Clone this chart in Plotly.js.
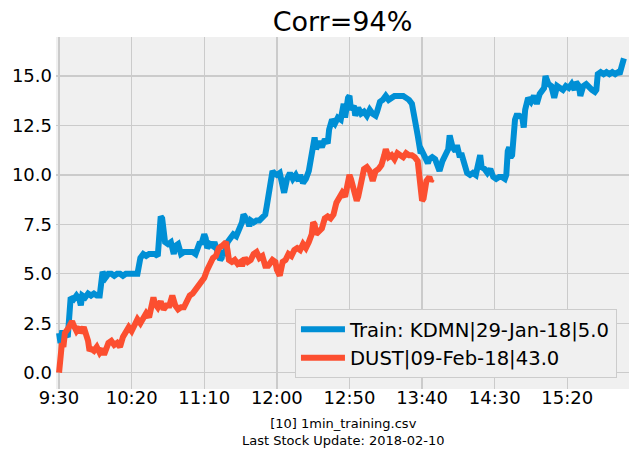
<!DOCTYPE html>
<html>
<head>
<meta charset="utf-8">
<script src="https://cdn.plot.ly/plotly-3.0.1.min.js"></script>
<style>html,body{margin:0;padding:0;background:#fff;}#chart{width:636px;height:458px;}</style>
</head>
<body>
<div id="chart"></div>
<script>
// minute index from 9:30
const trainMinutes = [0,1,2,4,6,7,8,10,12,14,15,16,18,20,22,24,26,28,29,30,32,34,36,38,40,42,44,46,48,50,52,54,56,58,60,62,64,66,68,69,70,71,72,73,75,77,79,80,82,84,86,88,90,92,94,95,97,98,100,101,102,104,106,107,108,110,111,112,113,114,116,118,120,122,124,126,127,128,129,130,131,132,134,136,138,140,142,143,144,145,146,147,148,150,152,154,155,157,159,161,163,165,166,168,170,172,174,175,176,177,179,181,183,185,186,188,190,192,194,196,197,199,200,201,203,204,206,208,210,212,213,214,216,218,219,221,223,225,227,229,231,233,235,237,239,241,243,245,246,247,248,249,250,252,254,255,257,259,261,262,264,266,268,269,270,271,273,274,276,277,279,281,283,285,287,289,290,291,293,295,297,299,301,303,305,307,308,309,310,311,312,314,315,317,319,320,321,323,325,327,329,331,333,334,335,337,339,341,343,345,347,349,351,353,355,356,358,359,361,363,365,367,369,370,371,373,375,377,379,381,383,385,386,388,389];
const trainValues = [2.0,1.5,2.0,2.0,1.8,3.6,3.8,3.7,3.9,3.7,3.4,3.9,3.8,4.0,3.9,4.0,3.9,3.9,4.9,5.1,4.8,5.0,5.0,4.9,5.0,5.0,4.9,5.0,5.0,5.0,5.0,5.0,5.8,6.0,5.9,6.0,6.0,6.0,5.9,7.3,7.9,7.8,7.0,6.6,6.5,6.6,6.0,6.4,6.5,6.0,6.1,6.1,6.1,6.1,6.0,6.3,6.6,6.5,7.0,6.8,6.3,6.5,6.4,6.6,6.3,6.0,5.7,5.8,6.2,5.9,6.6,6.8,7.0,6.9,7.2,7.6,8.0,7.9,7.6,7.7,7.4,7.7,7.6,7.7,7.7,7.9,8.0,8.4,9.0,9.4,9.8,10.2,10.1,10.0,10.1,9.6,9.1,9.8,10.1,9.8,10.0,9.7,10.0,9.6,9.8,10.2,10.9,11.5,11.9,11.3,11.7,11.4,11.8,11.6,12.3,12.8,12.6,12.9,12.8,13.6,12.9,13.9,14.0,13.3,13.5,13.0,13.4,13.1,13.2,13.0,13.1,13.3,13.1,13.0,13.2,13.7,13.8,14.0,13.8,13.9,14.0,14.0,14.0,14.0,13.9,13.8,13.6,13.0,12.4,12.0,11.6,11.1,11.2,10.9,10.6,10.8,10.9,10.8,10.4,10.2,10.7,11.1,11.3,12.0,11.7,11.4,11.2,11.5,10.9,11.1,10.6,10.1,10.0,10.1,10.0,10.9,11.0,10.4,10.3,10.1,10.3,9.9,9.8,9.9,9.9,9.8,10.0,11.2,11.4,10.9,11.0,12.8,13.0,13.0,12.9,12.4,13.3,13.9,13.7,14.0,13.6,14.1,14.3,14.4,15.0,14.6,14.5,13.9,14.5,14.4,14.3,14.5,14.4,14.6,14.3,14.7,14.5,14.0,14.5,14.6,14.4,14.3,14.2,14.3,15.1,15.2,15.1,15.2,15.1,15.2,15.1,15.2,15.1,15.5,15.9];

const dustMinutes = [0,1,2,3,4,6,8,9,10,12,14,15,17,18,20,21,22,24,26,28,30,31,33,34,36,38,40,42,44,46,48,50,52,54,56,58,60,62,64,65,66,68,70,72,74,76,78,80,82,84,86,88,90,92,94,96,98,100,102,104,106,108,110,112,114,115,116,117,119,121,123,125,126,128,130,132,134,136,138,140,142,144,145,147,149,150,152,154,156,158,160,162,164,166,168,170,172,174,175,176,177,179,181,183,185,187,189,191,193,195,197,199,200,201,203,205,206,208,210,212,214,216,218,220,222,224,225,227,229,231,233,235,237,239,241,243,245,247,248,249,250,251,252,253,255,256,257];
const dustValues = [0.0,0.5,1.5,1.3,2.0,2.2,2.4,2.6,2.4,2.1,2.3,2.0,2.3,2.1,1.6,1.1,1.2,1.1,1.3,1.0,1.2,0.9,1.2,1.5,1.6,1.4,1.5,1.3,1.8,2.0,2.3,2.1,2.4,2.7,2.5,2.8,3.0,2.8,3.4,3.8,3.5,3.3,3.6,3.2,3.4,3.4,3.9,3.4,3.2,3.3,3.3,3.6,3.9,4.0,4.2,4.3,4.6,4.8,5.2,5.5,5.8,5.9,6.3,6.4,6.5,6.6,6.2,5.7,5.6,5.7,5.5,5.6,5.4,5.8,5.6,5.7,6.0,6.1,5.8,5.9,5.4,5.4,5.5,5.7,5.6,5.2,4.9,5.6,5.7,6.0,5.9,6.2,6.3,6.2,6.5,6.3,6.6,7.0,7.6,7.5,7.0,7.2,7.3,7.8,7.9,7.8,8.0,8.6,8.9,9.1,8.9,9.6,10.0,9.8,9.2,8.7,8.9,9.8,10.3,10.4,10.2,9.7,10.2,10.3,10.5,11.0,11.3,10.9,11.0,10.8,11.1,11.0,10.9,11.1,11.0,11.0,10.9,10.7,10.0,9.0,8.7,8.8,9.3,9.7,9.9,9.7,9.8];

const tickMinutes = [0,50,100,150,200,250,300,350];
const tickLabels = ['9:30','10:20','11:10','12:00','12:50','13:40','14:30','15:20'];
const yTicks = [0,2.5,5,7.5,10,12.5,15];
const yTickLabels = ['0.0','2.5','5.0','7.5','10.0','12.5','15.0'];

const trainName = 'Train: KDMN|29-Jan-18|5.0';
const dustName = 'DUST|09-Feb-18|43.0';
const titleText = 'Corr=94%';
const footText = '[10] 1min_training.csv<br>Last Stock Update: 2018-02-10';

const font = 'DejaVu Sans, sans-serif';

const traces = [
  {x: trainMinutes, y: trainValues, name: trainName, mode: 'lines', type: 'scatter',
   line: {color: '#008fd5', width: 6}},
  {x: dustMinutes, y: dustValues, name: dustName, mode: 'lines', type: 'scatter',
   line: {color: '#fc4f30', width: 6}}
];

const layout = {
  width: 636, height: 458,
  margin: {l: 56, r: 7, t: 37, b: 69},
  paper_bgcolor: '#ffffff',
  plot_bgcolor: '#f0f0f0',
  font: {family: font, color: '#000', size: 18},
  title: {text: titleText, font: {family: font, size: 27, color: '#000'},
          x: 0.5, xref: 'paper', xanchor: 'center', y: 0.952, yref: 'container', yanchor: 'middle'},
  xaxis: {range: [-2.1, 392.5], tickvals: tickMinutes, ticktext: tickLabels,
          showgrid: true, gridcolor: '#cbcbcb', gridwidth: 1.3, zeroline: false,
          showline: false, ticks: '', ticklabelstandoff: -4, tickfont: {size: 18, family: font, color: '#000'}},
  yaxis: {range: [-0.83, 16.98], tickvals: yTicks, ticktext: yTickLabels,
          showgrid: true, gridcolor: '#cbcbcb', gridwidth: 1.3, zeroline: false,
          showline: false, ticks: '', ticklabelstandoff: 3, tickfont: {size: 18, family: font, color: '#000'}},
  legend: {x: 0.979, y: 0.031, xanchor: 'right', yanchor: 'bottom',
           bgcolor: '#f0f0f0', bordercolor: '#cccccc', borderwidth: 1, itemwidth: 44,
           font: {size: 19.6, family: font, color: '#000'}},
  showlegend: true,
  annotations: [{text: footText, xref: 'paper', yref: 'paper', x: 0.5, y: -0.122,
                 xanchor: 'center', yanchor: 'middle', showarrow: false,
                 font: {size: 13, family: font, color: '#000'}}]
};

Plotly.newPlot('chart', traces, layout, {displayModeBar: false, staticPlot: true});
</script>
</body>
</html>
